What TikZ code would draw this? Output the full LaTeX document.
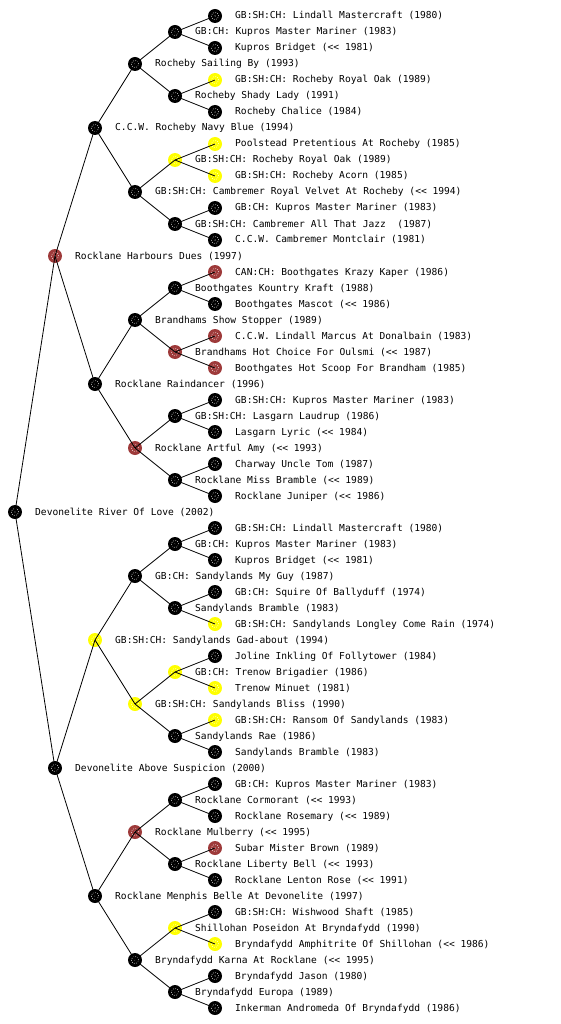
\documentclass[tikz,border=0pt]{standalone}
\usepackage{fontspec}
\newfontfamily\pedfont{DejaVu Sans Mono}
\definecolor{pedred}{RGB}{158,58,58}
\definecolor{pedyel}{RGB}{255,255,0}
\tikzset{
  dog/.style={circle, minimum size=14pt, inner sep=0pt, draw=none,
    path picture={
      \draw[white, line width=0.6pt, dash pattern=on 0.7pt off 1.5pt] (path picture bounding box.center) circle (3.6pt);
      \fill[white] (path picture bounding box.center) circle (0.6pt);
    }},
  blk/.style={dog, fill=black},
  red/.style={dog, fill=pedred},
  yel/.style={dog, fill=pedyel},
  lbl/.style={anchor=west, inner sep=0pt, text height=7pt, text depth=1pt,
    font=\pedfont\fontsize{9.6pt}{10pt}\selectfont},
  link/.style={line width=0.8pt, black}
}
\newcommand\pnode[5]{\node[#4] (#1) at (#2,#3) {}; \node[lbl] (#1t) at (#2+20,#3) {#5};}
\begin{document}
\begin{tikzpicture}[x=1pt,y=-1pt]
\fill[white] (0,0) rectangle (560,1024);
\useasboundingbox (0,0) rectangle (560,1024);
% generation 0
\pnode{r}{15}{512}{blk}{Devonelite River Of Love (2002)}
% generation 1
\pnode{r0}{55}{256}{red}{Rocklane Harbours Dues (1997)}
\pnode{r1}{55}{768}{blk}{Devonelite Above Suspicion (2000)}
% generation 2
\pnode{r00}{95}{128}{blk}{C.C.W. Rocheby Navy Blue (1994)}
\pnode{r01}{95}{384}{blk}{Rocklane Raindancer (1996)}
\pnode{r10}{95}{640}{yel}{GB:SH:CH: Sandylands Gad-about (1994)}
\pnode{r11}{95}{896}{blk}{Rocklane Menphis Belle At Devonelite (1997)}
% generation 3
\pnode{r000}{135}{64}{blk}{Rocheby Sailing By (1993)}
\pnode{r001}{135}{192}{blk}{GB:SH:CH: Cambremer Royal Velvet At Rocheby (<{}< 1994)}
\pnode{r010}{135}{320}{blk}{Brandhams Show Stopper (1989)}
\pnode{r011}{135}{448}{red}{Rocklane Artful Amy (<{}< 1993)}
\pnode{r100}{135}{576}{blk}{GB:CH: Sandylands My Guy (1987)}
\pnode{r101}{135}{704}{yel}{GB:SH:CH: Sandylands Bliss (1990)}
\pnode{r110}{135}{832}{red}{Rocklane Mulberry (<{}< 1995)}
\pnode{r111}{135}{960}{blk}{Bryndafydd Karna At Rocklane (<{}< 1995)}
% generation 4
\pnode{r0000}{175}{32}{blk}{GB:CH: Kupros Master Mariner (1983)}
\pnode{r0001}{175}{96}{blk}{Rocheby Shady Lady (1991)}
\pnode{r0010}{175}{160}{yel}{GB:SH:CH: Rocheby Royal Oak (1989)}
\pnode{r0011}{175}{224}{blk}{GB:SH:CH: Cambremer All That Jazz~ (1987)}
\pnode{r0100}{175}{288}{blk}{Boothgates Kountry Kraft (1988)}
\pnode{r0101}{175}{352}{red}{Brandhams Hot Choice For Oulsmi (<{}< 1987)}
\pnode{r0110}{175}{416}{blk}{GB:SH:CH: Lasgarn Laudrup (1986)}
\pnode{r0111}{175}{480}{blk}{Rocklane Miss Bramble (<{}< 1989)}
\pnode{r1000}{175}{544}{blk}{GB:CH: Kupros Master Mariner (1983)}
\pnode{r1001}{175}{608}{blk}{Sandylands Bramble (1983)}
\pnode{r1010}{175}{672}{yel}{GB:CH: Trenow Brigadier (1986)}
\pnode{r1011}{175}{736}{blk}{Sandylands Rae (1986)}
\pnode{r1100}{175}{800}{blk}{Rocklane Cormorant (<{}< 1993)}
\pnode{r1101}{175}{864}{blk}{Rocklane Liberty Bell (<{}< 1993)}
\pnode{r1110}{175}{928}{yel}{Shillohan Poseidon At Bryndafydd (1990)}
\pnode{r1111}{175}{992}{blk}{Bryndafydd Europa (1989)}
% generation 5
\pnode{r00000}{215}{16}{blk}{GB:SH:CH: Lindall Mastercraft (1980)}
\pnode{r00001}{215}{48}{blk}{Kupros Bridget (<{}< 1981)}
\pnode{r00010}{215}{80}{yel}{GB:SH:CH: Rocheby Royal Oak (1989)}
\pnode{r00011}{215}{112}{blk}{Rocheby Chalice (1984)}
\pnode{r00100}{215}{144}{yel}{Poolstead Pretentious At Rocheby (1985)}
\pnode{r00101}{215}{176}{yel}{GB:SH:CH: Rocheby Acorn (1985)}
\pnode{r00110}{215}{208}{blk}{GB:CH: Kupros Master Mariner (1983)}
\pnode{r00111}{215}{240}{blk}{C.C.W. Cambremer Montclair (1981)}
\pnode{r01000}{215}{272}{red}{CAN:CH: Boothgates Krazy Kaper (1986)}
\pnode{r01001}{215}{304}{blk}{Boothgates Mascot (<{}< 1986)}
\pnode{r01010}{215}{336}{red}{C.C.W. Lindall Marcus At Donalbain (1983)}
\pnode{r01011}{215}{368}{red}{Boothgates Hot Scoop For Brandham (1985)}
\pnode{r01100}{215}{400}{blk}{GB:SH:CH: Kupros Master Mariner (1983)}
\pnode{r01101}{215}{432}{blk}{Lasgarn Lyric (<{}< 1984)}
\pnode{r01110}{215}{464}{blk}{Charway Uncle Tom (1987)}
\pnode{r01111}{215}{496}{blk}{Rocklane Juniper (<{}< 1986)}
\pnode{r10000}{215}{528}{blk}{GB:SH:CH: Lindall Mastercraft (1980)}
\pnode{r10001}{215}{560}{blk}{Kupros Bridget (<{}< 1981)}
\pnode{r10010}{215}{592}{blk}{GB:CH: Squire Of Ballyduff (1974)}
\pnode{r10011}{215}{624}{yel}{GB:SH:CH: Sandylands Longley Come Rain (1974)}
\pnode{r10100}{215}{656}{blk}{Joline Inkling Of Follytower (1984)}
\pnode{r10101}{215}{688}{yel}{Trenow Minuet (1981)}
\pnode{r10110}{215}{720}{yel}{GB:SH:CH: Ransom Of Sandylands (1983)}
\pnode{r10111}{215}{752}{blk}{Sandylands Bramble (1983)}
\pnode{r11000}{215}{784}{blk}{GB:CH: Kupros Master Mariner (1983)}
\pnode{r11001}{215}{816}{blk}{Rocklane Rosemary (<{}< 1989)}
\pnode{r11010}{215}{848}{red}{Subar Mister Brown (1989)}
\pnode{r11011}{215}{880}{blk}{Rocklane Lenton Rose (<{}< 1991)}
\pnode{r11100}{215}{912}{blk}{GB:SH:CH: Wishwood Shaft (1985)}
\pnode{r11101}{215}{944}{yel}{Bryndafydd Amphitrite Of Shillohan (<{}< 1986)}
\pnode{r11110}{215}{976}{blk}{Bryndafydd Jason (1980)}
\pnode{r11111}{215}{1008}{blk}{Inkerman Andromeda Of Bryndafydd (1986)}
% connectors (drawn over the nodes, centre to centre)
\foreach \p in {r,r0,r1,r00,r01,r10,r11,r000,r001,r010,r011,r100,r101,r110,r111,
  r0000,r0001,r0010,r0011,r0100,r0101,r0110,r0111,r1000,r1001,r1010,r1011,r1100,r1101,r1110,r1111}{
  \draw[link] (\p.center) -- (\p0.center);
  \draw[link] (\p.center) -- (\p1.center);
}
\end{tikzpicture}
\end{document}
